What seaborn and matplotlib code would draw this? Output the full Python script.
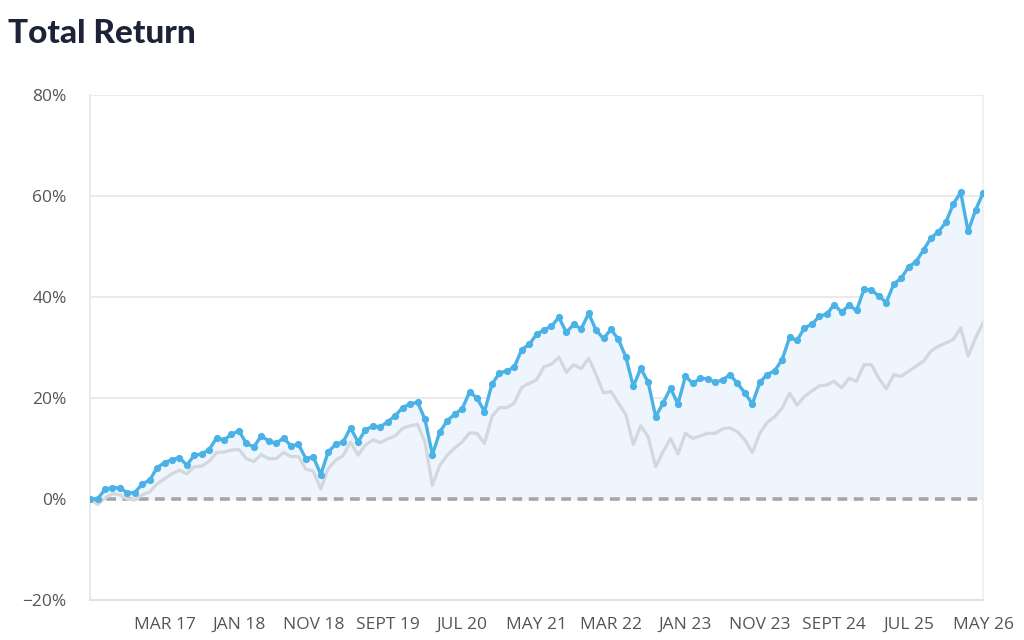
import numpy as np
import pandas as pd
import matplotlib.pyplot as plt
import seaborn as sns

# monthly total return (%), May 2016 - May 2026
fund = [0.0, 0.0, 1.9, 2.25, 2.2, 1.25, 1.25, 3.0, 3.7, 6.2,
        7.2, 7.8, 8.2, 6.7, 8.7, 8.9, 9.8, 12.1, 11.7, 12.8,
        13.5, 11.0, 10.3, 12.5, 11.5, 11.0, 12.1, 10.5, 10.8, 8.0,
        8.35, 4.85, 9.35, 10.8, 11.3, 14.1, 11.3, 13.7, 14.4, 14.3,
        15.3, 16.5, 18.1, 18.8, 19.2, 15.8, 8.8, 13.3, 15.5, 16.8,
        17.85, 21.2, 20.0, 17.3, 22.75, 24.9, 25.4, 26.1, 29.6, 30.6,
        32.6, 33.5, 34.2, 36.0, 33.0, 34.6, 33.7, 36.75, 33.4, 31.8,
        33.6, 31.6, 28.1, 22.3, 25.9, 23.1, 16.3, 19.0, 21.95, 18.8,
        24.3, 22.9, 23.9, 23.8, 23.1, 23.6, 24.6, 22.9, 21.0, 18.8,
        23.1, 24.65, 25.4, 27.6, 32.0, 31.4, 33.9, 34.6, 36.2, 36.6,
        38.5, 37.0, 38.4, 37.35, 41.5, 41.4, 40.2, 38.9, 42.6, 43.7,
        46.0, 47.0, 49.3, 51.7, 52.9, 54.8, 58.4, 60.75, 53.0, 57.25,
        60.6]

benchmark = [0.0, -1.1, 0.2, 1.05, 0.85, 0.0, -0.2, 0.8, 1.4, 3.0,
             4.0, 5.0, 5.7, 5.0, 6.4, 6.5, 7.5, 9.2, 9.3, 9.7,
             9.8, 8.0, 7.4, 8.8, 8.0, 8.0, 9.2, 8.4, 8.4, 5.9,
             5.5, 2.0, 6.0, 7.7, 8.55, 11.3, 8.7, 10.7, 11.7, 11.2,
             11.9, 12.5, 14.0, 14.5, 14.8, 11.3, 2.7, 6.7, 8.7, 10.1,
             11.3, 13.1, 13.0, 11.0, 16.3, 18.1, 18.1, 19.0, 22.1, 22.9,
             23.6, 26.2, 26.7, 28.1, 25.1, 26.6, 25.8, 27.9, 24.6, 21.0,
             21.3, 19.0, 16.7, 10.8, 14.5, 12.3, 6.4, 9.35, 12.0, 8.9,
             13.0, 12.0, 12.5, 13.0, 13.0, 13.9, 14.1, 13.3, 11.7, 9.2,
             13.0, 15.2, 16.3, 18.0, 21.0, 18.6, 20.3, 21.4, 22.4, 22.6,
             23.3, 22.0, 23.9, 23.3, 26.6, 26.6, 23.9, 21.8, 24.6, 24.3,
             25.3, 26.3, 27.3, 29.3, 30.25, 30.9, 31.6, 33.9, 28.3, 31.9,
             34.9]

tick_labels = ["MAR 17", "JAN 18", "NOV 18", "SEPT 19", "JUL 20", "MAY 21",
               "MAR 22", "JAN 23", "NOV 23", "SEPT 24", "JUL 25", "MAY 26"]
y_ticks = [-20, 0, 20, 40, 60, 80]

df = pd.DataFrame({"month": np.arange(len(fund)), "fund": fund, "benchmark": benchmark})

sns.set_style("white")
plt.rcParams["font.family"] = ["Open Sans", "DejaVu Sans"]

fig = plt.figure(figsize=(10.24, 6.4), dpi=100)
ax = fig.add_axes([0.088, 0.0625, 0.872, 0.789])

blue = "#4ab2e6"
ax.fill_between(df["month"], df["fund"], 0, color="#eef5fd", zorder=1)
for yv in [20, 40, 60, 80]:
    ax.axhline(yv, color="#e6e6e6", lw=1.2, zorder=0)
ax.axhline(0, color="#a6a6a6", lw=2.6, ls=(0, (2.7, 1.8)), zorder=2)

sns.lineplot(data=df, x="month", y="benchmark", color="#d3d7de", lw=2.3, ax=ax, zorder=3)
sns.lineplot(data=df, x="month", y="fund", color=blue, lw=2.4, marker="o",
             markersize=5.2, markeredgewidth=0, ax=ax, zorder=4)

ax.set_xlim(0, len(fund) - 1)
ax.set_ylim(-20, 80)
ax.set_xticks(np.arange(10, len(fund), 10))
ax.set_xticklabels(tick_labels)
ax.set_yticks(y_ticks)
ax.set_yticklabels([("\u2212%d%%" % -v) if v < 0 else "%d%%" % v for v in y_ticks])
ax.tick_params(axis="both", length=0, labelsize=12.5, labelcolor="#555555")
ax.tick_params(axis="x", pad=12)
ax.tick_params(axis="y", pad=17)
ax.set_xlabel("")
ax.set_ylabel("")

ax.spines["top"].set_visible(False)
ax.spines["left"].set_color("#e8eaee")
ax.spines["left"].set_linewidth(1.5)
ax.spines["bottom"].set_color("#dde3ec")
ax.spines["bottom"].set_linewidth(1.5)
ax.spines["right"].set_color("#f0f0f0")
ax.spines["right"].set_linewidth(1.2)

fig.text(0.008, 0.97, "Total Return", fontsize=24, fontweight="black",
         color="#1d2238", family=["Lato", "DejaVu Sans"], va="top")

plt.savefig("out.png", dpi=100)
